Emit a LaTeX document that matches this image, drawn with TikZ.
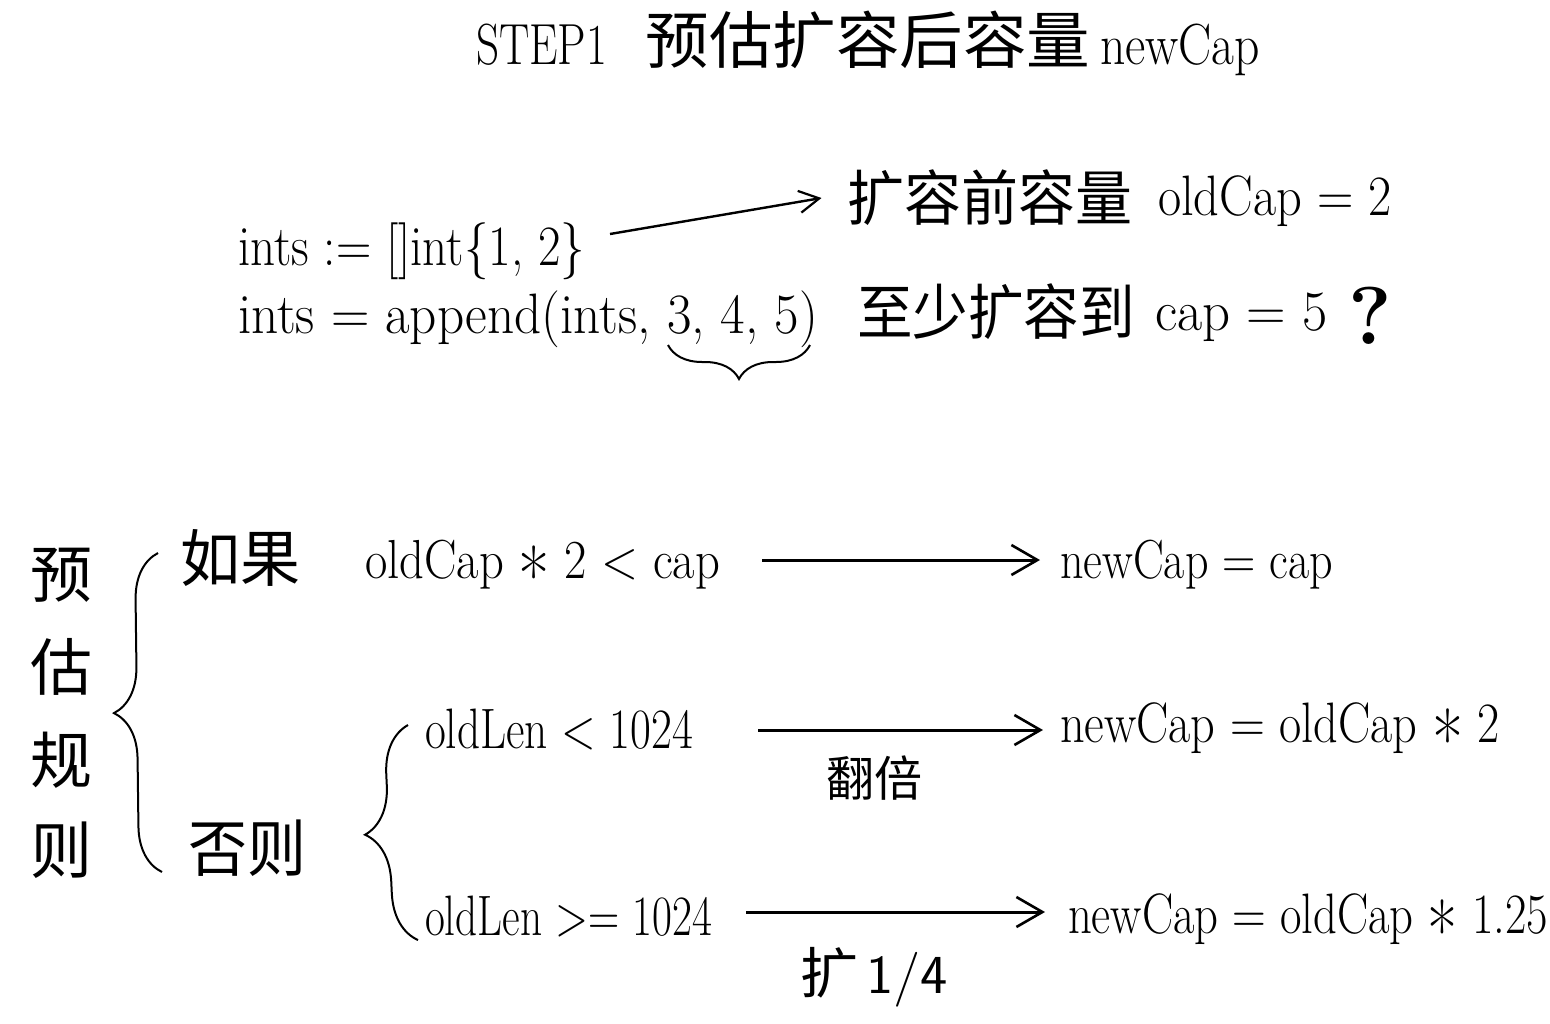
\documentclass[tikz,border=0pt]{standalone}
\usepackage{fontspec}
\usepackage{graphicx}
\newfontfamily\cjk{Noto Sans CJK SC}
\usetikzlibrary{arrows.meta,decorations.pathreplacing}
\newcommand\fw[2]{\resizebox{#1pt}{\height}{#2}}
\newcommand\fsz[1]{\fontsize{#1}{#1}\selectfont}
\newcommand\stx{\raisebox{-0.47em}{\scalebox{1.4}{*}}}
\begin{document}
\begin{tikzpicture}[x=1pt,y=-1pt,
  txt/.style={inner sep=0pt, outer sep=0pt, anchor=base west},
  cj/.style={inner sep=0pt, outer sep=0pt, anchor=center},
  arr/.style={line width=3pt, -{Straight Barb[length=26pt,width=30pt,line width=2.6pt]}},
  thinarr/.style={line width=2.4pt, -{Straight Barb[length=20pt,width=22pt,line width=2.2pt]}},
  brc/.style={line width=2pt, decorate, decoration={brace, amplitude=#1, aspect=0.5}},
]
\fill[white] (0,0) rectangle (1550,1023);
\useasboundingbox (0,0) rectangle (1550,1023);

% title
\node[txt] (st) at (476,64) {\fsz{58}\fw{131}{STEP1}};
\node[cj] (tt) at (868,40) {\fsz{62}\fw{445}{\cjk 预估扩容后容量}};
\node[txt] (nc) at (1100,64) {\fsz{58}\fw{160}{newCap}};

% code lines
\node[txt] (l1) at (238,265) {\fsz{57}\fw{347}{ints := []int\{1, 2\}}};
\node[txt] (l2) at (238,333) {\fsz{57}\fw{580}{ints = append(ints, 3, 4, 5)}};

\node[cj] (t1) at (990,198) {\fsz{60}\fw{285}{\cjk 扩容前容量}};
\node[txt] (t1b) at (1158,215) {\fsz{57}\fw{234}{oldCap = 2}};
\node[cj] (t2) at (996,312) {\fsz{60}\fw{278}{\cjk 至少扩容到}};
\node[txt] (t2b) at (1155,330) {\fsz{57}\fw{173}{cap = 5}};
\node[cj] (q) at (1370,316) {\fsz{82}\bfseries ?};

\draw[thinarr] ([xshift=25pt,yshift=31pt]l1.base east) -- ([xshift=-26pt]t1.west);

\coordinate (b1a) at (810,345);
\coordinate (b1b) at (668,345);
\draw[brc=34pt] (b1a) -- (b1b);

% rules
\node[cj] (y1) at (61,575) {\fsz{62}\cjk 预};
\node[cj] (y2) at (61,667) {\fsz{62}\cjk 估};
\node[cj] (y3) at (61,760) {\fsz{62}\cjk 规};
\node[cj] (y4) at (61,850) {\fsz{62}\cjk 则};

\coordinate (B1a) at (162,872);
\coordinate (B1b) at (158,553);
\draw[brc=46pt] (B1a) -- (B1b);

\node[cj] (rg) at (240,558) {\fsz{62}\fw{120}{\cjk 如果}};
\node[cj] (fz) at (247,848) {\fsz{62}\fw{118}{\cjk 否则}};

\node[txt] (c1) at (365,578) {\fsz{55}\fw{355}{oldCap \stx{} 2 < cap}};
\node[txt] (r1) at (1060,578) {\fsz{55}\fw{273}{newCap = cap}};
\draw[arr] ([xshift=42pt,yshift=18pt]c1.base east) -- ([xshift=-20pt,yshift=18pt]r1.base west);

\coordinate (B2a) at (418,940);
\coordinate (B2b) at (408,725);
\draw[brc=48pt] (B2a) -- (B2b);

\node[txt] (c2) at (425,748) {\fsz{57}\fw{268}{oldLen < 1024}};
\node[txt] (r2) at (1060,742) {\fsz{57}\fw{440}{newCap = oldCap \stx{} 2}};
\draw[arr] ([xshift=65pt,yshift=18pt]c2.base east) -- ([xshift=-17pt,yshift=12pt]r2.base west);
\node[cj] (fb) at (874,778) {\fsz{48}\fw{96}{\cjk 翻倍}};

\node[txt] (c3) at (425,935) {\fsz{57}\fw{287}{oldLen >= 1024}};
\node[txt] (r3) at (1068,933) {\fsz{57}\fw{480}{newCap = oldCap \stx{} 1.25}};
\draw[arr] ([xshift=34pt,yshift=23pt]c3.base east) -- ([xshift=-23pt,yshift=21pt]r3.base west);
\node[cj] (kz) at (874,977) {\fsz{55}\fw{148}{\cjk 扩\hspace{8pt}\sffamily 1/4}};
\end{tikzpicture}
\end{document}
